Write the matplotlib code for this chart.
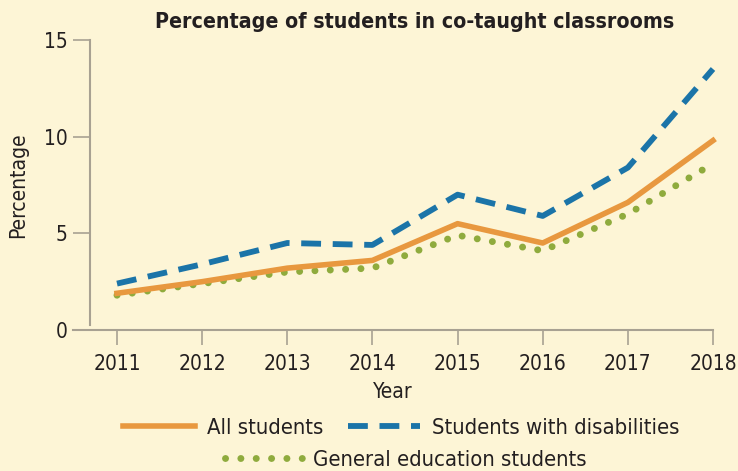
import matplotlib
matplotlib.use("Agg")
import matplotlib.pyplot as plt
from matplotlib.lines import Line2D

years = [2011, 2012, 2013, 2014, 2015, 2016, 2017, 2018]
all_students = [1.9, 2.5, 3.2, 3.6, 5.5, 4.5, 6.6, 9.8]
with_disabilities = [2.4, 3.4, 4.5, 4.4, 7.0, 5.9, 8.4, 13.5]
general_ed = [1.8, 2.4, 3.0, 3.2, 4.9, 4.1, 6.0, 8.6]

bg = "#fdf5d6"
c_all = "#e8983f"
c_dis = "#1b74a8"
c_gen = "#8fab3d"
axis_c = "#a8a192"
txt = "#231f20"

plt.rcParams["font.family"] = ["DejaVu Sans"]
plt.rcParams["font.stretch"] = "condensed"

dots = (0, (0.01, 2.2))
dashes = (0, (3.4, 2.0))

fig = plt.figure(figsize=(7.38, 4.71), dpi=100, facecolor=bg)
ax = fig.add_axes([73 / 738, 1 - 330 / 471, 640 / 738, 290 / 471])
ax.set_facecolor(bg)

ax.plot(years, general_ed, color=c_gen, lw=5, linestyle=dots,
        dash_capstyle="round", clip_on=False, zorder=2)
ax.plot(years, all_students, color=c_all, lw=4, clip_on=False, zorder=3)
ax.plot(years, with_disabilities, color=c_dis, lw=4.2, linestyle=dashes,
        clip_on=False, zorder=4)

ax.set_xlim(2011 - 44 / 85.14, 2018)
ax.set_ylim(0, 15)
ax.set_xticks(years)
ax.set_yticks([0, 5, 10, 15])

for s in ["top", "right"]:
    ax.spines[s].set_visible(False)
ax.spines["left"].set_position(("data", 2011 - 27 / 85.14))
ax.spines["left"].set_bounds(0.25, 15)
ax.spines["left"].set_color(axis_c)
ax.spines["bottom"].set_color(axis_c)
ax.spines["left"].set_linewidth(1.5)
ax.spines["bottom"].set_linewidth(1.5)

ax.tick_params(axis="x", direction="out", length=11, width=1.2, color=axis_c,
               labelsize=15, labelcolor=txt, pad=6)
ax.tick_params(axis="y", direction="out", length=12, width=1.2, color=axis_c,
               labelsize=15, labelcolor=txt, pad=4)

ax.set_xlabel("Year", fontsize=15, color=txt, labelpad=6)
fig.text(18 / 738, 1 - 185 / 471, "Percentage", rotation=90, fontsize=15,
         color=txt, ha="center", va="center")
fig.text(415 / 738, 1 - 22 / 471, "Percentage of students in co-taught classrooms",
         fontsize=15.3, fontweight="bold", color=txt, ha="center", va="center")

h_all = Line2D([], [], color=c_all, lw=4)
h_dis = Line2D([], [], color=c_dis, lw=4.2, linestyle=dashes)
h_gen = Line2D([], [], color=c_gen, lw=5, linestyle=dots, dash_capstyle="round")

leg1 = fig.legend([h_all, h_dis], ["All students", "Students with disabilities"],
                  loc="center", bbox_to_anchor=(401 / 738, 1 - 428 / 471), ncol=2,
                  frameon=False, fontsize=15.8, handlelength=3.3, columnspacing=1.1,
                  handletextpad=0.55, labelcolor=txt)
leg2 = fig.legend([h_gen], ["General education students"],
                  loc="center", bbox_to_anchor=(406 / 738, 1 - 460 / 471),
                  frameon=False, fontsize=15.8, handlelength=3.7,
                  handletextpad=0.3, labelcolor=txt)

fig.savefig("out.png", dpi=100, facecolor=bg)
